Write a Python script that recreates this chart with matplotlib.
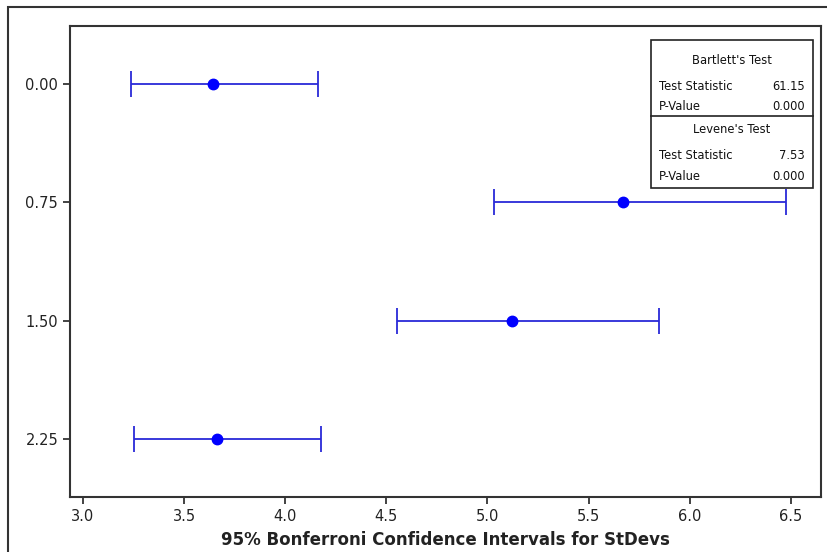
import matplotlib
matplotlib.use('Agg')
import matplotlib.pyplot as plt
from matplotlib.patches import Rectangle

# data
groups = ['0.00', '0.75', '1.50', '2.25']
group_pos = [0.00, 0.75, 1.50, 2.25]
sd_point = [3.645, 5.668, 5.119, 3.663]
sd_lower = [3.238, 5.030, 4.554, 3.252]
sd_upper = [4.163, 6.475, 5.847, 4.178]

bartlett_stat = '61.15'
bartlett_p = '0.000'
levene_stat = '7.53'
levene_p = '0.000'

plt.rcParams['font.family'] = ['DejaVu Sans']

W, H = 828, 552
fig = plt.figure(figsize=(W / 100, H / 100), dpi=100)
fig.patch.set_facecolor('white')

# outer frame (right and bottom edges are cut off in the reference)
fig.patches.append(Rectangle((8 / W, -0.1), 1.2, 1 - 7 / H + 0.1,
                             transform=fig.transFigure, fill=False,
                             edgecolor='#333333', lw=1.5))

ax = fig.add_axes([70 / W, 1 - 497 / H, (821 - 70) / W, (497 - 26) / H])

err_lo = [p - l for p, l in zip(sd_point, sd_lower)]
err_hi = [u - p for p, u in zip(sd_point, sd_upper)]
ax.errorbar(sd_point, group_pos, xerr=[err_lo, err_hi], fmt='o',
            color='#0000ff', ecolor='#2a2ad8', elinewidth=1.3,
            capsize=9.2, capthick=1.3, markersize=7.5)

ax.set_xlim(2.936, 6.649)
ax.set_ylim(2.618, -0.368)
ax.set_xticks([3.0, 3.5, 4.0, 4.5, 5.0, 5.5, 6.0, 6.5])
ax.set_xticklabels(['3.0', '3.5', '4.0', '4.5', '5.0', '5.5', '6.0', '6.5'])
ax.set_yticks(group_pos)
ax.set_yticklabels(groups)
ax.tick_params(labelsize=10.5, colors='#222222', length=5, width=1.2)
for s in ax.spines.values():
    s.set_color('#333333')
    s.set_linewidth(1.5)
ax.set_xlabel('95% Bonferroni Confidence Intervals for StDevs',
              fontsize=12, fontweight='bold', color='#222222', labelpad=5)

# test results box
bx0, bx1 = 651 / W, 813 / W


def fy(py):
    return 1 - py / H


fig.patches.append(Rectangle((bx0, fy(188)), bx1 - bx0, fy(40) - fy(188),
                             transform=fig.transFigure, facecolor='white',
                             edgecolor='#222222', lw=1.2, zorder=5))
fig.lines.append(plt.Line2D([bx0, bx1], [fy(116), fy(116)],
                            transform=fig.transFigure, color='#222222', lw=1.2, zorder=6))

fs = 8.3
tc = '#111111'
fig.text((bx0 + bx1) / 2, fy(60), "Bartlett's Test", ha='center', va='center', fontsize=fs, color=tc, zorder=7)
fig.text(659 / W, fy(86), 'Test Statistic', ha='left', va='center', fontsize=fs, color=tc, zorder=7)
fig.text(805 / W, fy(86), bartlett_stat, ha='right', va='center', fontsize=fs, color=tc, zorder=7)
fig.text(659 / W, fy(106), 'P-Value', ha='left', va='center', fontsize=fs, color=tc, zorder=7)
fig.text(805 / W, fy(106), bartlett_p, ha='right', va='center', fontsize=fs, color=tc, zorder=7)
fig.text((bx0 + bx1) / 2, fy(130), "Levene's Test", ha='center', va='center', fontsize=fs, color=tc, zorder=7)
fig.text(659 / W, fy(156), 'Test Statistic', ha='left', va='center', fontsize=fs, color=tc, zorder=7)
fig.text(805 / W, fy(156), levene_stat, ha='right', va='center', fontsize=fs, color=tc, zorder=7)
fig.text(659 / W, fy(176), 'P-Value', ha='left', va='center', fontsize=fs, color=tc, zorder=7)
fig.text(805 / W, fy(176), levene_p, ha='right', va='center', fontsize=fs, color=tc, zorder=7)

fig.savefig('out.png', dpi=100)
